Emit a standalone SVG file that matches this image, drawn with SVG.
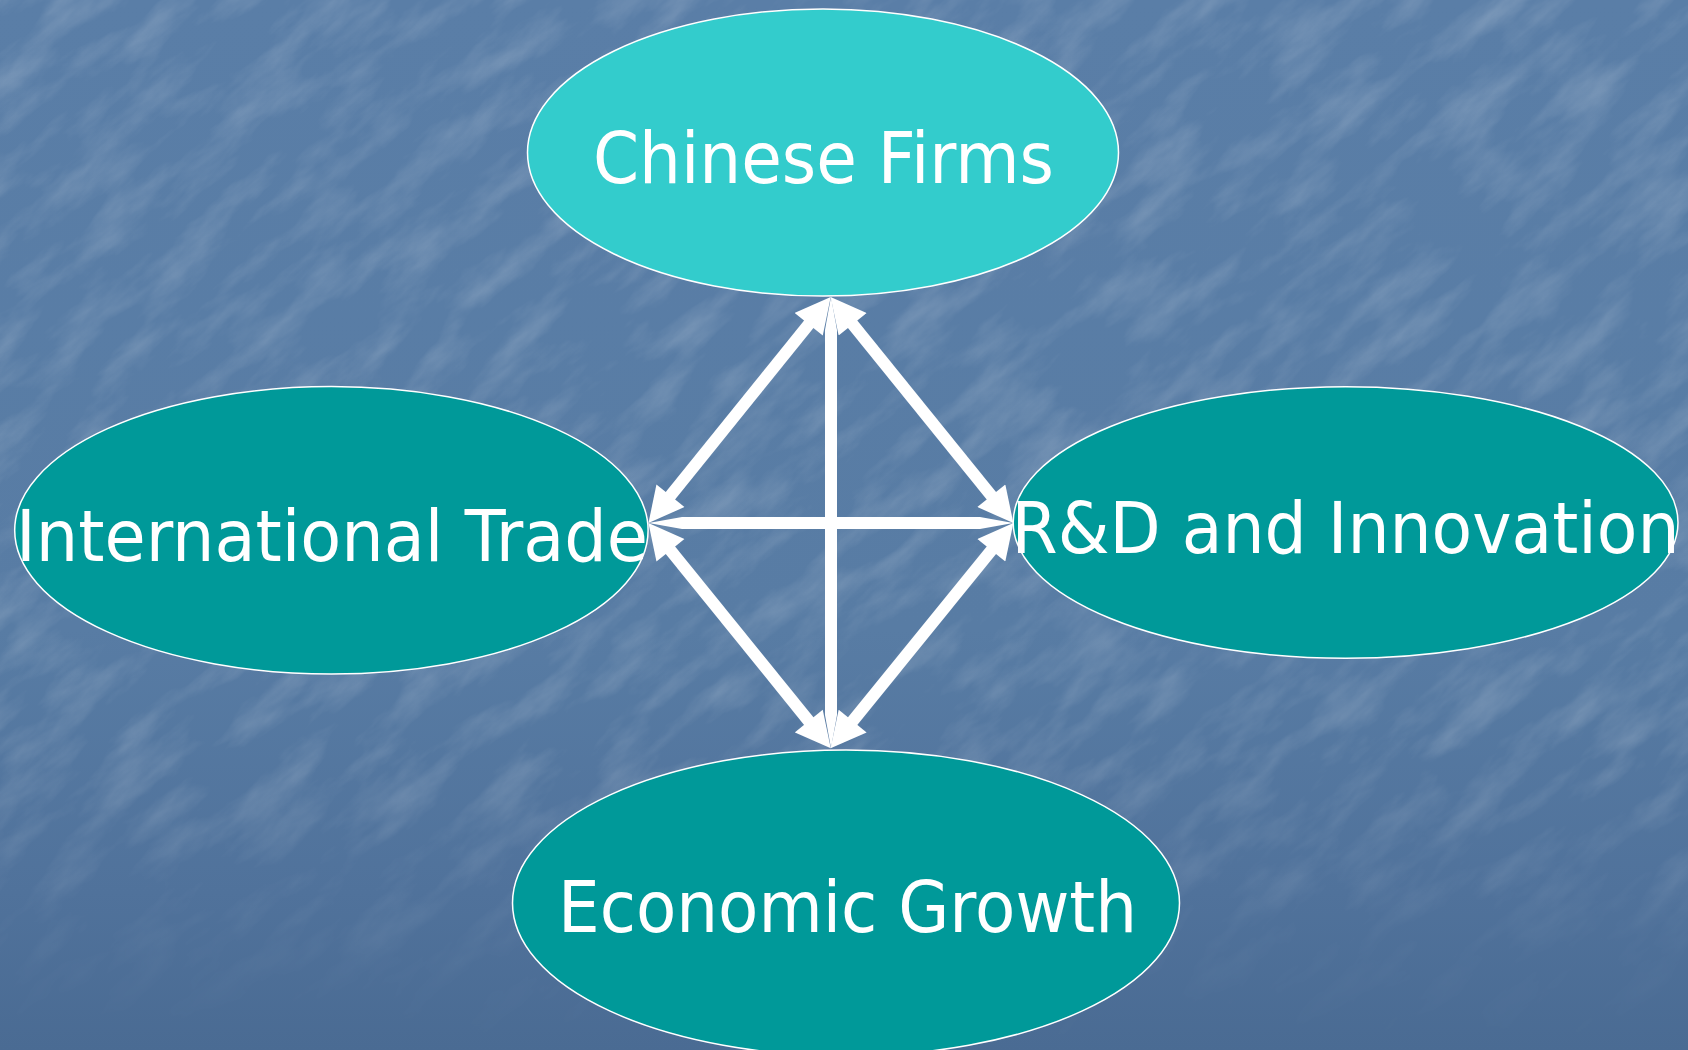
<svg xmlns="http://www.w3.org/2000/svg" width="1688" height="1050" viewBox="0 0 1688 1050">
  <defs>
    <linearGradient id="bg" x1="0" y1="0" x2="0" y2="1">
      <stop offset="0" stop-color="#5a7ea7"/>
      <stop offset="0.6" stop-color="#587ca4"/>
      <stop offset="0.85" stop-color="#50729b"/>
      <stop offset="1" stop-color="#4a6b93"/>
    </linearGradient>
    <linearGradient id="fade" x1="0" y1="0" x2="0" y2="1">
      <stop offset="0" stop-color="#fff"/>
      <stop offset="0.72" stop-color="#fff"/>
      <stop offset="0.93" stop-color="#fff" stop-opacity="0.15"/>
      <stop offset="1" stop-color="#fff" stop-opacity="0"/>
    </linearGradient>
    <mask id="fadeMask" maskUnits="userSpaceOnUse" x="0" y="0" width="1688" height="1050">
      <rect width="1688" height="1050" fill="url(#fade)"/>
    </mask>
    <!-- mottled paper texture with short diagonal strokes -->
    <filter id="streaks" x="0" y="0" width="1" height="1" filterUnits="objectBoundingBox">
      <feTurbulence type="fractalNoise" baseFrequency="0.011 0.032" numOctaves="5" seed="11" result="n"/>
      <feColorMatrix in="n" type="matrix" values="0 0 0 0 1  0 0 0 0 1  0 0 0 0 1  1.8 0 0 0 -0.78"/>
    </filter>
    <marker id="head" markerUnits="userSpaceOnUse" markerWidth="36" markerHeight="36" viewBox="0 0 35 36" refX="2" refY="18" orient="auto-start-reverse">
      <path d="M0,0 L35,18 L0,36 z" fill="#ffffff"/>
    </marker>
    <style>
      .node { stroke: #ffffff; stroke-width: 1.5; }
      .light { fill: #33cccc; }
      .dark { fill: #009999; }
      .label { font-family: "DejaVu Sans", Verdana, sans-serif; font-size: 72px; fill: #ffffff; }
      .diag { stroke: #ffffff; stroke-width: 12; fill: none; marker-start: url(#head); marker-end: url(#head); }
      .bar { fill: #ffffff; }
    </style>
  </defs>

  <!-- background -->
  <rect width="1688" height="1050" fill="url(#bg)"/>
  <g mask="url(#fadeMask)" opacity="0.2">
    <g transform="rotate(-40 844 525)">
      <rect x="-600" y="-700" width="2900" height="2450" filter="url(#streaks)"/>
    </g>
  </g>

  <!-- nodes -->
  <g id="chinese-firms">
    <ellipse class="node light" cx="823" cy="152.5" rx="295.5" ry="143.5"/>
    <text class="label" x="593" y="182.7" textLength="461" lengthAdjust="spacingAndGlyphs">Chinese Firms</text>
  </g>
  <g id="international-trade">
    <ellipse class="node dark" cx="331.4" cy="530.3" rx="316.7" ry="143.7"/>
    <text class="label" x="16" y="561" textLength="632" lengthAdjust="spacingAndGlyphs">International Trade</text>
  </g>
  <g id="rd-innovation">
    <ellipse class="node dark" cx="1345.6" cy="522.5" rx="332.4" ry="135.8"/>
    <text class="label" x="1011.5" y="552.7" textLength="668" lengthAdjust="spacingAndGlyphs">R&amp;D and Innovation</text>
  </g>
  <g id="economic-growth">
    <ellipse class="node dark" cx="846" cy="903" rx="333.5" ry="153"/>
    <text class="label" x="558" y="931.7" textLength="579" lengthAdjust="spacingAndGlyphs">Economic Growth</text>
  </g>

  <!-- connectors -->
  <g id="connectors">
    <!-- straight cross, tapered into the arrow tips -->
    <path class="bar" d="M825,330 L831,297 L837,330 L837,715 L831,748 L825,715 Z"/>
    <path class="bar" d="M682,517 L648.5,523 L682,529 L980,529 L1013.3,523 L980,517 Z"/>
    <!-- diagonals with heads at both ends -->
    <line class="diag" x1="810" y1="322.7" x2="669.2" y2="497.3"/>
    <line class="diag" x1="851.4" y1="322.7" x2="992.6" y2="497.3"/>
    <line class="diag" x1="669.2" y1="548.7" x2="810" y2="722.6"/>
    <line class="diag" x1="992.6" y1="548.7" x2="851.4" y2="722.6"/>
  </g>
</svg>
